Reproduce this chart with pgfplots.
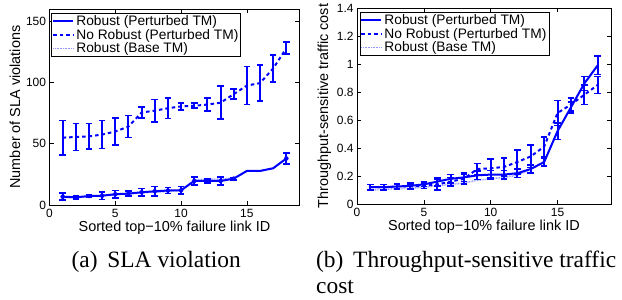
\documentclass[border=0pt]{standalone}
\usepackage{pgfplots}
\pgfplotsset{compat=1.18}
\usepackage{fontspec}
\setmainfont{Liberation Sans}
\newfontfamily\capfont{Liberation Serif}
\definecolor{mblue}{RGB}{0,0,255}
\definecolor{lblue}{RGB}{150,150,255}
\pgfplotsset{
  mystyle/.style={
    scale only axis,
    xmin=0, xmax=19, xtick={0,5,10,15},
    tick align=inside,
    major tick length=4bp,
    /pgf/number format/assume math mode=true,
    ticklabel style={font=\fontsize{12}{14}\selectfont},
    label style={font=\fontsize{14.5}{16}\selectfont},
    xlabel={Sorted top−10\% failure link ID},
    axis line style={line width=0.6bp},
    every tick/.style={black, line width=0.5bp},
    xticklabel style={yshift=-1bp},
    xlabel style={yshift=4bp},
    ylabel style={yshift=-1bp},
    legend style={font=\fontsize{13.8}{15}\selectfont, draw=black, line width=0.8bp,
      inner sep=0.5bp, row sep=-1.8bp, cells={anchor=west}},
    legend cell align=left,
    legend image code/.code={\draw[##1] (0bp,0bp) -- (20bp,0bp);},
  },
  rob/.style={mblue, line width=2bp, solid},
  norob/.style={mblue, line width=2bp, dash pattern=on 3.5bp off 3bp},
  base/.style={lblue, line width=1.6bp, dash pattern=on 0.8bp off 0.8bp},
  eb/.style={error bars/.cd, y dir=both, y explicit,
    error bar style={solid, line width=2bp},
    error mark options={solid, rotate=90, mark size=3.3bp, line width=1.7bp}},
}
\begin{document}
\begin{tikzpicture}
\path[use as bounding box] (0bp,0bp) rectangle (622bp,300bp);
% ---------- (a) ----------
\begin{axis}[mystyle,
  at={(49.5bp,95bp)}, anchor=south west,
  width=250bp, height=196bp,
  ymin=0, ymax=160, ytick={0,50,100,150},
  ylabel={Number of SLA violations},
  legend style={at={(0.008,0.982)}, anchor=north west},
]
\addplot[base, forget plot] coordinates {
(1,6) (2,6) (3,7) (4,7.5) (5,8.5) (6,9) (7,10) (8,10.5) (9,11) (10,12)
(11,20.5) (12,21) (13,21) (14,22) (15,27.8) (16,27.8) (17,30) (18,38)};
\addplot[rob] coordinates {
(1,6.8) (2,6.3) (3,7.3) (4,7.6) (5,8.8) (6,9.3) (7,10.4) (8,11.2) (9,11.8)
(10,12) (11,19.6) (12,19.6) (13,19.6) (14,21.5) (15,27.8) (16,27.8) (17,30) (18,38)};
\addlegendentry{Robust (Perturbed TM)}
\addplot[mblue, only marks, mark=none, forget plot, eb] coordinates {
(1,6.8) +- (0,3) (2,6.3) +- (0,1.5) (3,7.3) +- (0,1) (4,7.6) +- (0,3)
(5,8.8) +- (0,3) (6,9.3) +- (0,2) (7,10.4) +- (0,3) (8,11.2) +- (0,4)
(9,11.8) +- (0,2.5) (10,12) +- (0,3) (11,19.6) +- (0,3.5) (12,19.6) +- (0,1.5)
(13,19.6) +- (0,3) (14,21.5) +- (0,1) (18,38) +- (0,4.5)};
\addplot[norob, eb] coordinates {
(1,55) +- (0,14) (2,55.5) +- (0,11) (3,56) +- (0,10.5) (4,57.5) +- (0,11.5)
(5,60) +- (0,11) (6,64) +- (0,9) (7,75.5) +- (0,4.5) (8,77) +- (0,9)
(9,79) +- (0,8.5) (10,80.5) +- (0,3) (11,81) +- (0,2) (12,82) +- (0,5.5)
(13,83.5) +- (0,13.5) (14,90.5) +- (0,4) (15,97.5) +- (0,15.5) (16,99.5) +- (0,14.5)
(17,111.5) +- (0,11) (18,128) +- (0,5)};
\addlegendentry{No Robust (Perturbed TM)}
\addlegendimage{base}
\addlegendentry{Robust (Base TM)}
\end{axis}
% ---------- (b) ----------
\begin{axis}[mystyle,
  at={(357bp,96bp)}, anchor=south west,
  width=254bp, height=196bp,
  ymin=0, ymax=1.4, ytick={0,0.2,0.4,0.6,0.8,1,1.2,1.4},
  ylabel={Throughput-sensitive traffic cost},
  legend style={at={(0.01,0.982)}, anchor=north west},
]
\addplot[base, forget plot] coordinates {
(1,0.1) (2,0.105) (3,0.11) (4,0.112) (5,0.12) (6,0.13) (7,0.14) (8,0.15) (9,0.17)
(10,0.18) (11,0.19) (12,0.205) (13,0.25) (14,0.3) (15,0.52) (16,0.69) (17,0.86) (18,0.99)};
\addplot[rob, eb] coordinates {
(1,0.12) +- (0,0.02) (2,0.12) +- (0,0.02) (3,0.125) +- (0,0.02) (4,0.13) +- (0,0.02)
(5,0.14) +- (0,0.015) (6,0.16) +- (0,0.03) (7,0.18) +- (0,0.03) (8,0.19) +- (0,0.03)
(9,0.205) +- (0,0.03) (10,0.21) +- (0,0.03) (11,0.21) +- (0,0.03) (12,0.22) +- (0,0.03)
(13,0.25) +- (0,0.03) (14,0.30) +- (0,0.03) (15,0.52) +- (0,0.06) (16,0.69) +- (0,0.04)
(17,0.86) +- (0,0.05) (18,0.99) +- (0,0.065)};
\addlegendentry{Robust (Perturbed TM)}
\addplot[norob, eb] coordinates {
(1,0.12) +- (0,0.02) (2,0.12) +- (0,0.02) (3,0.125) +- (0,0.02) (4,0.125) +- (0,0.02)
(5,0.13) +- (0,0.02) (6,0.14) +- (0,0.04) (7,0.16) +- (0,0.03) (8,0.18) +- (0,0.035)
(9,0.25) +- (0,0.04) (10,0.255) +- (0,0.065) (11,0.265) +- (0,0.065) (12,0.30) +- (0,0.085)
(13,0.34) +- (0,0.08) (14,0.41) +- (0,0.07) (15,0.65) +- (0,0.09) (16,0.71) +- (0,0.045)
(17,0.78) +- (0,0.07) (18,0.85) +- (0,0.06)};
\addlegendentry{No Robust (Perturbed TM)}
\addlegendimage{base}
\addlegendentry{Robust (Base TM)}
\end{axis}
% ---------- captions ----------
\node[anchor=base west, inner sep=0pt, font=\capfont\fontsize{23.5}{26}\selectfont] at (71.5bp,33bp) {(a)\, SLA violation};
\node[anchor=base west, inner sep=0pt, font=\capfont\fontsize{23.5}{26}\selectfont] at (316bp,33bp) {(b)\, Throughput-sensitive traffic};
\node[anchor=base west, inner sep=0pt, font=\capfont\fontsize{23.5}{26}\selectfont] at (316bp,6.5bp) {cost};
\end{tikzpicture}
\end{document}
